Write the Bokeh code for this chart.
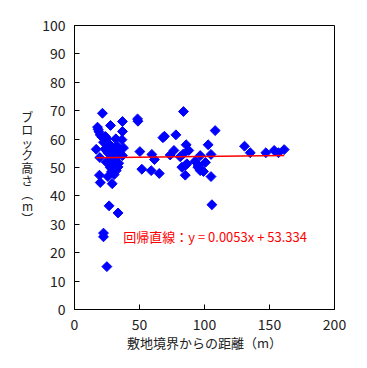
import math
from bokeh.plotting import figure
from bokeh.models import Range1d, FixedTicker, Label, ColumnDataSource
from bokeh.embed import file_html
from bokeh.resources import INLINE

# distance from site boundary (m)
dist = [21.5, 83.8, 48.5, 48.8, 36.9, 27.7, 17.7, 18.8, 18.2, 36.9, 108.2, 19.8,
        21.0, 23.8, 24.8, 31.8, 36.5, 69.2, 68.0, 78.0, 22.3, 26.2, 27.5, 28.8,
        85.9, 102.8, 130.8, 16.7, 23.6, 24.4, 31.3, 33.4, 37.7, 33.8, 25.7, 50.3,
        76.5, 87.9, 59.5, 73.6, 83.8, 31.3, 36.9, 28.5, 30.0, 19.5, 32.6, 81.3,
        96.7, 105.0, 135.2, 147.2, 153.6, 156.9, 161.3, 61.5, 24.4, 92.8, 100.7,
        27.0, 29.5, 34.0, 86.5, 95.4, 85.2, 31.3, 27.5, 30.0, 33.5, 82.6, 94.9,
        51.8, 59.0, 32.1, 28.5, 96.7, 99.2, 65.2, 19.2, 25.7, 85.2, 105.0, 30.5,
        19.8, 29.0, 26.6, 33.5, 105.7, 22.3, 22.3, 24.9]
# block height
height = [69.1, 69.7, 67.1, 66.3, 66.2, 64.8, 64.2, 62.6, 63.4, 62.7, 63.0, 61.5,
          60.8, 60.9, 60.2, 60.1, 59.8, 61.0, 60.5, 61.5, 58.9, 58.5, 57.7, 57.2,
          58.0, 58.0, 57.5, 56.4, 56.6, 56.0, 56.9, 57.2, 56.9, 55.4, 55.2, 55.6,
          56.0, 56.0, 54.6, 54.4, 54.8, 54.8, 54.2, 53.8, 55.5, 53.5, 53.6, 53.8,
          54.2, 54.6, 55.2, 55.2, 56.0, 55.2, 56.3, 52.8, 51.9, 52.2, 51.8,
          52.5, 52.0, 51.5, 51.3, 50.7, 50.7, 50.7, 50.0, 49.5, 50.2, 50.1, 50.1,
          49.4, 48.9, 48.9, 48.5, 48.9, 48.6, 47.9, 47.3, 46.8, 47.3, 46.8, 47.5,
          44.7, 44.3, 36.5, 34.0, 36.9, 26.9, 25.6, 15.1]

slope = 0.0053
intercept = 53.334
x_ticks = [0, 50, 100, 150, 200]
y_ticks = [0, 10, 20, 30, 40, 50, 60, 70, 80, 90, 100]
x_title = "敷地境界からの距離（m）"
y_title_chars = ["ブ", "ロ", "ッ", "ク", "高", "さ", "︵", "m", "︶"]
reg_text = "回帰直線：y = 0.0053x + 53.334"

FONT = "Noto Sans CJK JP"

p = figure(width=367, height=368, output_backend="svg", toolbar_location=None,
           x_range=Range1d(0, 200), y_range=Range1d(0, 100),
           min_border_left=74, min_border_right=33, min_border_top=25,
           min_border_bottom=59)
p.xgrid.visible = False
p.ygrid.visible = False
p.outline_line_color = "black"
p.outline_line_width = 1
p.background_fill_color = "white"
p.border_fill_color = "white"

for ax in (p.xaxis[0], p.yaxis[0]):
    ax.major_tick_in = 5
    ax.major_tick_out = 0
    ax.minor_tick_line_color = None
    ax.axis_line_color = "black"
    ax.major_tick_line_color = "black"
    ax.major_label_text_font = FONT
    ax.major_label_text_font_size = "14px"
    ax.major_label_text_color = "#222222"
    ax.axis_label_text_font = FONT
    ax.axis_label_text_font_style = "normal"
    ax.axis_label_text_color = "#222222"

p.xaxis.ticker = FixedTicker(ticks=x_ticks)
p.yaxis.ticker = FixedTicker(ticks=y_ticks)
p.xaxis.major_label_standoff = 9
p.yaxis.major_label_standoff = 9
p.xaxis.axis_label = x_title
p.xaxis.axis_label_text_font_size = "13px"
p.xaxis.axis_label_standoff = 0

# vertical (stacked) y-axis title
p.yaxis.axis_label = "\n".join(y_title_chars)
p.yaxis.axis_label_orientation = "horizontal"
p.yaxis.axis_label_text_font_size = "12px"
p.yaxis.axis_label_text_line_height = 0.75
p.yaxis.axis_label_standoff = 6

src = ColumnDataSource(dict(x=dist, y=height))
p.scatter("x", "y", source=src, marker="square", angle=math.pi / 4, size=7,
          fill_color="#0000FF", line_color="#0000FF")

x0, x1 = min(dist), max(dist)
p.line([x0, x1], [slope * x0 + intercept, slope * x1 + intercept],
       line_color="red", line_width=1.5)

p.add_layout(Label(x=37.5, y=25.7, text=reg_text, text_color="red",
                   text_font=FONT, text_font_size="13px", text_baseline="middle"))

open("out.html", "w").write(file_html(p, INLINE))
